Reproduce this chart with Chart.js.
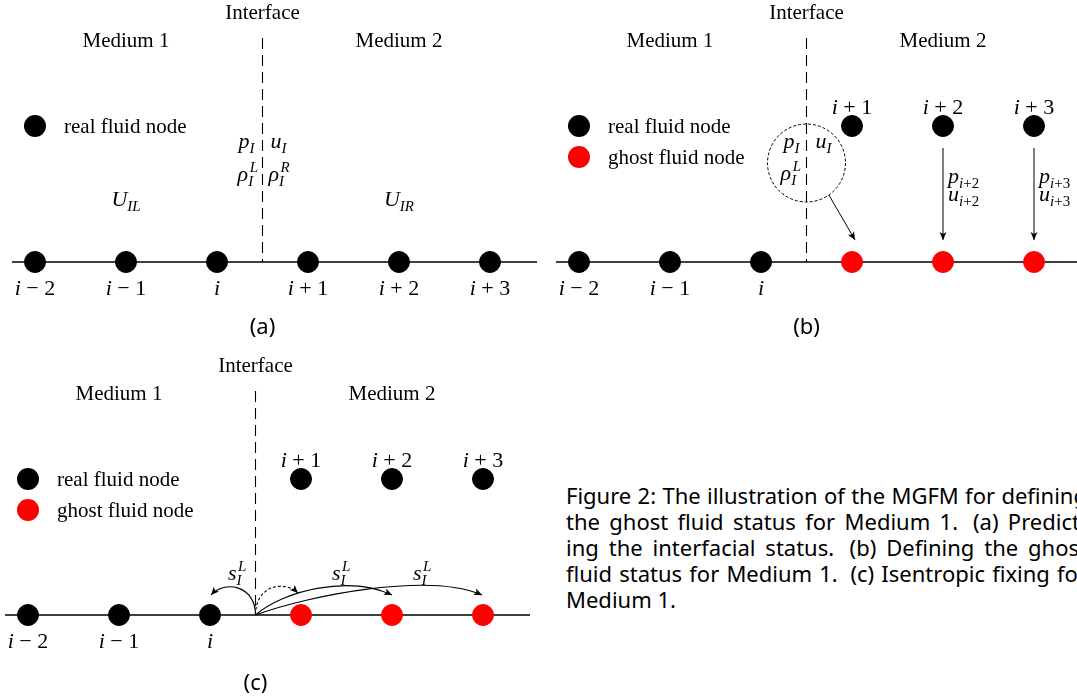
<!DOCTYPE html>
<html>
<head>
<meta charset="utf-8">
<script src="https://cdn.jsdelivr.net/npm/chart.js@4.4.1/dist/chart.umd.min.js"></script>
<style>
  html, body { margin: 0; padding: 0; background: #fff; width: 1077px; height: 700px; overflow: hidden; position: relative; }
  canvas { position: absolute; }
  #caption { position: absolute; left: 566px; top: 482px; width: 521px; font-family: "Noto Sans", sans-serif; font-size: 22px; line-height: 26px; color: #000; }
  #caption div { text-align: justify; text-align-last: justify; white-space: nowrap; }
  #caption div.last { text-align-last: left; }
</style>
</head>
<body>
<canvas id="panelA" width="540" height="350" style="left:0;top:0"></canvas>
<canvas id="panelB" width="540" height="350" style="left:544px;top:0"></canvas>
<canvas id="panelC" width="540" height="350" style="left:-7px;top:353px"></canvas>
<div id="caption"></div>
<script>
// node indices relative to node i, and their labels
const nodeIdx = [-2, -1, 0, 1, 2, 3];
const nodeNames = ['i − 2', 'i − 1', 'i', 'i + 1', 'i + 2', 'i + 3'];
const interfaceIdx = 0.5;

// which nodes are real / ghost in each panel (row 0 = grid line, row 1 = upper row)
const realA = [-2, -1, 0, 1, 2, 3];
const realB = [-2, -1, 0];
const ghostB = [1, 2, 3];
const upperB = [1, 2, 3];
const realC = [-2, -1, 0];
const ghostC = [1, 2, 3];
const upperC = [1, 2, 3];

const panelNames = ['(a)', '(b)', '(c)'];
const captionLines = [
  'Figure 2: The illustration of the MGFM for defining',
  'the ghost fluid status for Medium 1.\u2005 (a) Predict-',
  'ing the interfacial status.\u2005 (b) Defining the ghost',
  'fluid status for Medium 1.\u2005 (c) Isentropic fixing for',
  'Medium 1.'
];

const SERIF = '"Liberation Serif", "Times New Roman", serif';
const SANS = '"Noto Sans", sans-serif';

// panel geometry: 91px between nodes, 136px between rows
const STEP = 91, ROWH = 136, W = 540, H = 350;
const X_MIN = -2 - 35 / STEP, X_MAX = X_MIN + W / STEP;
const Y_MAX = 262 / ROWH, Y_MIN = Y_MAX - H / ROWH;

function font(size, italic) {
  return (italic ? 'italic ' : '') + size + 'px ' + SERIF;
}

function segsWidth(ctx, segs, size) {
  let w = 0;
  segs.forEach(function (s) {
    ctx.font = font(size, s[1] === 'i');
    w += ctx.measureText(s[0]).width;
  });
  return w;
}

function drawSegs(ctx, segs, size, x, y) {
  segs.forEach(function (s) {
    ctx.font = font(size, s[1] === 'i');
    ctx.fillText(s[0], x, y);
    x += ctx.measureText(s[0]).width;
  });
  return x;
}

// tiny math typesetter: base with optional sub / sup
function math(ctx, m, x, y, align) {
  const B = 22, S = 15;
  ctx.textAlign = 'left';
  ctx.textBaseline = 'alphabetic';
  ctx.fillStyle = '#000';
  const bw = segsWidth(ctx, m.base, B);
  const sw = m.sub ? segsWidth(ctx, m.sub, S) : 0;
  const pw = m.sup ? segsWidth(ctx, m.sup, S) : 0;
  const w = bw + Math.max(sw, pw);
  const x0 = align === 'center' ? x - w / 2 : align === 'right' ? x - w : x;
  const xe = drawSegs(ctx, m.base, B, x0, y);
  if (m.sub) drawSegs(ctx, m.sub, S, xe, y + 5);
  if (m.sup) drawSegs(ctx, m.sup, S, xe + 1.5, y - 9);
}

function nodeMath(name) {
  return name.length > 1 ? {base: [['i', 'i'], [name.slice(1), 'r']]} : {base: [['i', 'i']]};
}

function subOf(name) {
  return [['i', 'i'], [name.slice(1).replace(/ /g, ''), 'r']];
}

function text(ctx, str, x, y, size, family, align) {
  ctx.font = size + 'px ' + family;
  ctx.textAlign = align || 'center';
  ctx.textBaseline = 'alphabetic';
  ctx.fillStyle = '#000';
  ctx.fillText(str, x, y);
}

function arrowHead(ctx, tx, ty, fx, fy) {
  const a = Math.atan2(ty - fy, tx - fx), len = 8, half = 3.5;
  ctx.save();
  ctx.setLineDash([]);
  ctx.fillStyle = '#000';
  ctx.beginPath();
  ctx.moveTo(tx, ty);
  ctx.lineTo(tx - len * Math.cos(a) + half * Math.sin(a), ty - len * Math.sin(a) - half * Math.cos(a));
  ctx.lineTo(tx - len * Math.cos(a) * 0.75, ty - len * Math.sin(a) * 0.75);
  ctx.lineTo(tx - len * Math.cos(a) - half * Math.sin(a), ty - len * Math.sin(a) + half * Math.cos(a));
  ctx.closePath();
  ctx.fill();
  ctx.restore();
}

function curveArrow(ctx, p0, p1, p2, p3, dash) {
  ctx.save();
  ctx.strokeStyle = '#000';
  ctx.lineWidth = 1.1;
  ctx.setLineDash(dash || []);
  ctx.beginPath();
  ctx.moveTo(p0.x, p0.y);
  ctx.bezierCurveTo(p1.x, p1.y, p2.x, p2.y, p3.x, p3.y);
  ctx.stroke();
  ctx.restore();
  arrowHead(ctx, p3.x, p3.y, p2.x, p2.y);
}

function off(p, dx, dy) {
  return {x: p.x + dx, y: p.y + dy};
}

function pos(chart, i, row) {
  return {x: chart.scales.x.getPixelForValue(i), y: chart.scales.y.getPixelForValue(row)};
}

function nodeSet(list, row, color) {
  return {
    data: list.map(function (i) { return {x: i, y: row}; }),
    backgroundColor: color,
    borderColor: color,
    pointRadius: 10.5,
    pointHoverRadius: 10.5,
    pointBorderWidth: 1,
    clip: false
  };
}

function drawBase(chart) {
  const ctx = chart.ctx, a = chart.chartArea;
  const o = pos(chart, interfaceIdx, 0);
  ctx.save();
  ctx.strokeStyle = '#000';
  ctx.lineWidth = 1.3;
  ctx.beginPath();
  ctx.moveTo(a.left + 12, o.y);
  ctx.lineTo(a.right - 3, o.y);
  ctx.stroke();
  ctx.lineWidth = 1.1;
  ctx.setLineDash([11, 6]);
  ctx.beginPath();
  ctx.moveTo(o.x, o.y - 224);
  ctx.lineTo(o.x, o.y);
  ctx.stroke();
  ctx.restore();
}

function drawCommonText(chart, panel, withGhost) {
  const ctx = chart.ctx;
  const o = pos(chart, interfaceIdx, 0);
  text(ctx, 'Interface', o.x, o.y - 243, 21, SERIF);
  text(ctx, 'Medium 1', pos(chart, -1, 0).x, o.y - 215, 21, SERIF);
  text(ctx, 'Medium 2', pos(chart, 2, 0).x, o.y - 215, 21, SERIF);
  // legend
  const lg = pos(chart, nodeIdx[0], 1);
  ctx.fillStyle = '#000';
  ctx.beginPath();
  ctx.arc(lg.x, lg.y, 11, 0, Math.PI * 2);
  ctx.fill();
  text(ctx, 'real fluid node', lg.x + 29, lg.y + 7, 21, SERIF, 'left');
  if (withGhost) {
    ctx.fillStyle = '#ff0000';
    ctx.beginPath();
    ctx.arc(lg.x, lg.y + 31, 11, 0, Math.PI * 2);
    ctx.fill();
    text(ctx, 'ghost fluid node', lg.x + 29, lg.y + 38, 21, SERIF, 'left');
  }
  // labels under the grid line
  const shown = withGhost ? 3 : nodeIdx.length;
  for (let k = 0; k < shown; k++) {
    const p = pos(chart, nodeIdx[k], 0);
    math(ctx, nodeMath(nodeNames[k]), p.x, p.y + 33, 'center');
  }
  // labels above the upper row
  if (withGhost) {
    for (let k = 3; k < nodeIdx.length; k++) {
      const p = pos(chart, nodeIdx[k], 1);
      math(ctx, nodeMath(nodeNames[k]), p.x, p.y - 12, 'center');
    }
  }
  text(ctx, panelNames[panel], o.x, o.y + (panel === 2 ? 75 : 72), 22, SANS);
}

function drawA(chart) {
  const ctx = chart.ctx;
  const o = pos(chart, interfaceIdx, 0);
  drawCommonText(chart, 0, false);
  math(ctx, {base: [['p', 'i']], sub: [['I', 'i']]}, o.x - 8, o.y - 114, 'right');
  math(ctx, {base: [['u', 'i']], sub: [['I', 'i']]}, o.x + 8, o.y - 114, 'left');
  math(ctx, {base: [['ρ', 'i']], sub: [['I', 'i']], sup: [['L', 'i']]}, o.x - 6, o.y - 81, 'right');
  math(ctx, {base: [['ρ', 'i']], sub: [['I', 'i']], sup: [['R', 'i']]}, o.x + 6, o.y - 81, 'left');
  math(ctx, {base: [['U', 'i']], sub: [['IL', 'i']]}, pos(chart, -1, 0).x, o.y - 56, 'center');
  math(ctx, {base: [['U', 'i']], sub: [['IR', 'i']]}, pos(chart, 2, 0).x, o.y - 56, 'center');
}

function drawB(chart) {
  const ctx = chart.ctx;
  const o = pos(chart, interfaceIdx, 0);
  drawCommonText(chart, 1, true);
  // dashed circle holding the interface state
  const c = off(o, 0, -99), r = 39;
  ctx.save();
  ctx.strokeStyle = '#000';
  ctx.lineWidth = 1;
  ctx.setLineDash([3, 2]);
  ctx.beginPath();
  ctx.arc(c.x, c.y, r, 0, Math.PI * 2);
  ctx.stroke();
  ctx.restore();
  math(ctx, {base: [['p', 'i']], sub: [['I', 'i']]}, o.x - 7, o.y - 114, 'right');
  math(ctx, {base: [['u', 'i']], sub: [['I', 'i']]}, o.x + 9, o.y - 114, 'left');
  math(ctx, {base: [['ρ', 'i']], sub: [['I', 'i']], sup: [['L', 'i']]}, o.x - 7, o.y - 82, 'right');
  // arrow from the circle to ghost node i+1
  const a = 55 * Math.PI / 180;
  const s = off(c, r * Math.cos(a), r * Math.sin(a));
  const t = off(pos(chart, nodeIdx[3], 0), 3, -22);
  ctx.save();
  ctx.strokeStyle = '#000';
  ctx.lineWidth = 1;
  ctx.beginPath();
  ctx.moveTo(s.x, s.y);
  ctx.lineTo(t.x, t.y);
  ctx.stroke();
  ctx.restore();
  arrowHead(ctx, t.x, t.y, s.x, s.y);
  // copying p and u down to ghost nodes i+2, i+3
  for (let k = 4; k < nodeIdx.length; k++) {
    const up = pos(chart, nodeIdx[k], 1), dn = pos(chart, nodeIdx[k], 0);
    ctx.save();
    ctx.strokeStyle = '#000';
    ctx.lineWidth = 1;
    ctx.beginPath();
    ctx.moveTo(up.x, up.y + 22);
    ctx.lineTo(dn.x, dn.y - 22);
    ctx.stroke();
    ctx.restore();
    arrowHead(ctx, dn.x, dn.y - 22, up.x, up.y + 22);
    math(ctx, {base: [['p', 'i']], sub: subOf(nodeNames[k])}, up.x + 5, up.y + 57, 'left');
    math(ctx, {base: [['u', 'i']], sub: subOf(nodeNames[k])}, up.x + 5, up.y + 75, 'left');
  }
}

function drawC(chart) {
  const ctx = chart.ctx;
  const o = pos(chart, interfaceIdx, 0);
  drawCommonText(chart, 2, true);
  const ni = pos(chart, 0, 0), n1 = pos(chart, 1, 0), n2 = pos(chart, 2, 0), n3 = pos(chart, 3, 0);
  curveArrow(ctx, o, off(o, 0, -30), off(o, -31, -35), off(ni, 1, -20));
  curveArrow(ctx, o, off(o, 0, -30), off(o, 29, -35), off(n1, -3, -22), [3, 2]);
  curveArrow(ctx, o, off(o, 29, -25), off(o, 94, -40), off(n2, 0, -20));
  curveArrow(ctx, o, off(o, 54, -20), off(o, 174, -43), off(n3, -1, -20));
  const sL = {base: [['s', 'i']], sub: [['I', 'i']], sup: [['L', 'i']]};
  math(ctx, sL, o.x - 19, o.y - 35, 'center');
  math(ctx, sL, o.x + 85, o.y - 35, 'center');
  math(ctx, sL, o.x + 166, o.y - 35, 'center');
}

function makePanel(id, datasets, draw) {
  return new Chart(document.getElementById(id), {
    type: 'scatter',
    data: {datasets: datasets},
    options: {
      responsive: false,
      animation: false,
      events: [],
      layout: {padding: 0, autoPadding: false},
      plugins: {legend: {display: false}, tooltip: {enabled: false}},
      scales: {
        x: {type: 'linear', display: false, min: X_MIN, max: X_MAX},
        y: {type: 'linear', display: false, min: Y_MIN, max: Y_MAX}
      }
    },
    plugins: [{
      id: 'diagram-' + id,
      beforeDatasetsDraw: drawBase,
      afterDatasetsDraw: draw
    }]
  });
}

makePanel('panelA', [nodeSet(realA, 0, '#000')], drawA);
makePanel('panelB', [nodeSet(realB, 0, '#000'), nodeSet(ghostB, 0, '#ff0000'), nodeSet(upperB, 1, '#000')], drawB);
makePanel('panelC', [nodeSet(realC, 0, '#000'), nodeSet(ghostC, 0, '#ff0000'), nodeSet(upperC, 1, '#000')], drawC);

const cap = document.getElementById('caption');
captionLines.forEach(function (line, k) {
  const d = document.createElement('div');
  d.textContent = line;
  if (k === captionLines.length - 1) d.className = 'last';
  cap.appendChild(d);
});
</script>
</body>
</html>
